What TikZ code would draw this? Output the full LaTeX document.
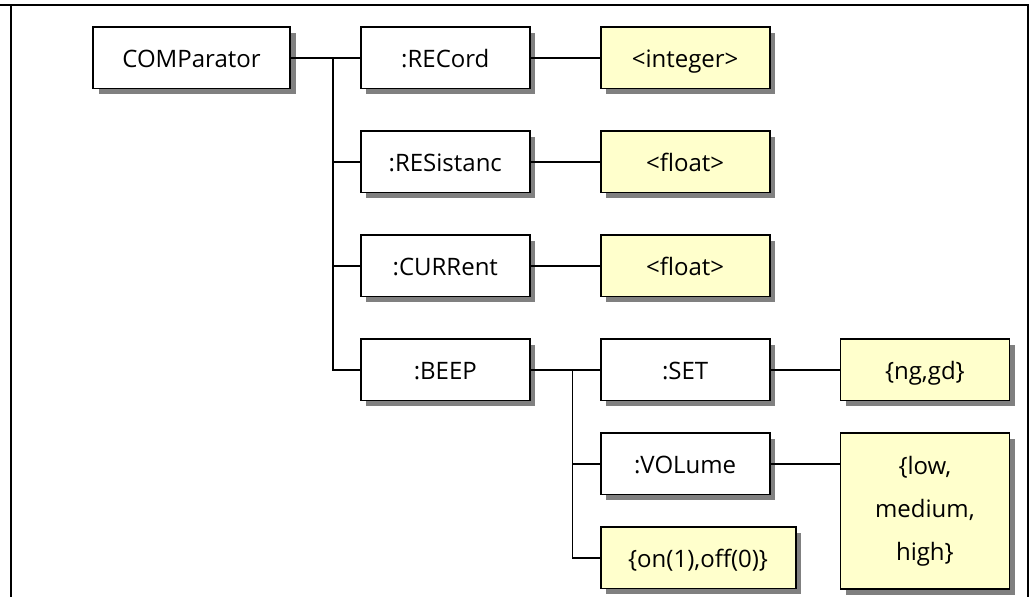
\documentclass[tikz,border=0pt]{standalone}
\usepackage{fontspec}
\setmainfont{Open Sans}
\usepackage{xcolor}
\usepackage{tikz}
\usetikzlibrary{positioning, calc, shadows}
\definecolor{valyellow}{RGB}{255,255,204}
\definecolor{shadowgray}{RGB}{128,128,128}
\tikzset{
  cmdbox/.style={rectangle, draw, line width=0.9pt, fill=white,
    minimum width=84.5pt, minimum height=30.6pt, inner sep=2pt,
    text height=11pt, text depth=1.4pt,
    font=\fontsize{12}{21.5}\selectfont, align=center,
    drop shadow={shadow xshift=2.8pt, shadow yshift=-2.8pt,
                 fill=shadowgray, opacity=1}},
  rootbox/.style={cmdbox, minimum width=98.5pt},
  valbox/.style={cmdbox, fill=valyellow},
  link/.style={line width=0.7pt},
  frameline/.style={line width=1pt},
}

\begin{document}
\begin{tikzpicture}
  \useasboundingbox (0,0) rectangle (516.5pt,-298.5pt);
  \draw[frameline] (0,-2.5pt) -- (514pt,-2.5pt) -- (514pt,-298.5pt);
  \draw[frameline] (5.5pt,-2.5pt) -- (5.5pt,-298.5pt);

  \node[rootbox] (comp) at (95.75pt,-29pt) {COMParator};
  \node[cmdbox, right=34.5pt of comp] (rec) {:RECord};
  \node[valbox, right=34.5pt of rec] (recval) {<integer>};
  \node[cmdbox, below=20.5pt of rec] (res) {:RESistanc};
  \node[valbox, right=34.5pt of res] (resval) {<float>};
  \node[cmdbox, below=20.5pt of res] (cur) {:CURRent};
  \node[valbox, right=34.5pt of cur] (curval) {<float>};
  \node[cmdbox, below=20.5pt of cur] (beep) {:BEEP};
  \node[cmdbox, right=34.5pt of beep] (set) {:SET};
  \node[valbox, right=34.5pt of set] (setval) {\{ng,gd\}};
  \node[cmdbox, below=15.5pt of set] (vol) {:VOLume};
  \node[valbox, minimum height=78pt, text height={}, text depth={},
    right=34.5pt of vol.north east, anchor=north west]
    (volval) {\{low,\\medium,\\high\}};
  \node[valbox, minimum width=97.5pt, below=15.5pt of vol.south west,
    anchor=north west] (beepval) {\{on(1),off(0)\}};

  \coordinate (fork) at ($(comp.east)+(21pt,0)$);
  \coordinate (beepfork) at ($(beep.east)+(21pt,0)$);

  \draw[link] (comp) -- (rec);
  \draw[link] (fork) |- (res.west);
  \draw[link] (fork) |- (cur.west);
  \draw[link] (fork) |- (beep.west);
  \draw[link] (rec) -- (recval);
  \draw[link] (res) -- (resval);
  \draw[link] (cur) -- (curval);
  \draw[link] (beep) -- (set);
  \draw[link] (beepfork) |- (vol.west);
  \draw[link] (beepfork) |- (beepval.west);
  \draw[link] (set) -- (setval);
  \draw[link] (vol.east) -- (vol.east -| volval.west);
\end{tikzpicture}
\end{document}
